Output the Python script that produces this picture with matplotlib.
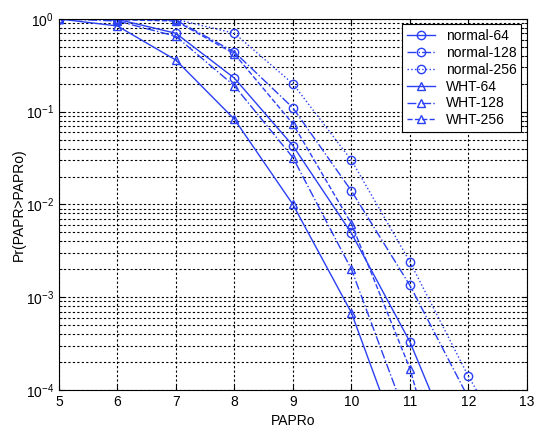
import matplotlib
matplotlib.use("Agg")
import matplotlib.pyplot as plt
from matplotlib.ticker import LogLocator, NullFormatter, FixedLocator

plt.rcParams["font.family"] = ["Liberation Sans", "DejaVu Sans"]

papr0 = [5, 6, 7, 8, 9, 10, 11, 12, 13]

normal_64 = [1.0, 0.99, 0.70, 0.23, 0.043, 0.0049, 0.00033, 0.00001, 1e-7]
normal_128 = [1.0, 0.995, 0.97, 0.44, 0.11, 0.014, 0.00134, 0.000082, 1e-6]
normal_256 = [1.0, 0.998, 0.99, 0.70, 0.20, 0.030, 0.0024, 0.00014, 0.000012]
wht_64 = [1.0, 0.84, 0.36, 0.083, 0.010, 0.00068, 0.000013, 1e-7, 1e-8]
wht_128 = [1.0, 0.95, 0.65, 0.19, 0.032, 0.0020, 0.00004, 1e-6, 1e-7]
wht_256 = [1.0, 0.98, 0.95, 0.42, 0.074, 0.0062, 0.00017, 0.000001, 1e-7]

labels = ["normal-64", "normal-128", "normal-256", "WHT-64", "WHT-128", "WHT-256"]
series = [normal_64, normal_128, normal_256, wht_64, wht_128, wht_256]
styles = ["-o", "-.o", ":o", "-^", "-.^", "--^"]

blue = "#2a40f5"

fig = plt.figure(figsize=(5.35, 4.3), dpi=100)
ax = fig.add_axes([0.110, 0.093, 0.875, 0.863])

for vals, st, lab in zip(series, styles, labels):
    ax.semilogy(papr0, vals, st, color=blue, linewidth=1.0, markersize=6,
                markerfacecolor="none", markeredgewidth=1.0, label=lab)

ax.set_xlim(5, 13)
ax.set_ylim(1e-4, 1)
ax.xaxis.set_major_locator(FixedLocator(range(5, 14)))
ax.yaxis.set_major_locator(LogLocator(base=10))
ax.yaxis.set_minor_locator(LogLocator(base=10, subs=range(2, 10)))
ax.yaxis.set_minor_formatter(NullFormatter())

ax.grid(True, which="major", linestyle=(0, (2, 2)), color="black", linewidth=0.8)
ax.grid(True, which="minor", axis="y", linestyle=(0, (2, 2)), color="black", linewidth=0.8)
ax.tick_params(which="both", direction="in", top=True, right=True, labelsize=10)
for sp in ax.spines.values():
    sp.set_linewidth(0.8)

ax.set_xlabel("PAPRo", fontsize=10, labelpad=4)
ax.set_ylabel("Pr(PAPR>PAPRo)", fontsize=10, labelpad=0)

leg = ax.legend(loc="upper right", fontsize=10, fancybox=False, edgecolor="black",
                framealpha=1, handlelength=2.0, borderaxespad=0.4, labelspacing=0.2,
                borderpad=0.35)
leg.get_frame().set_linewidth(0.8)

fig.savefig("out.png", dpi=100)
